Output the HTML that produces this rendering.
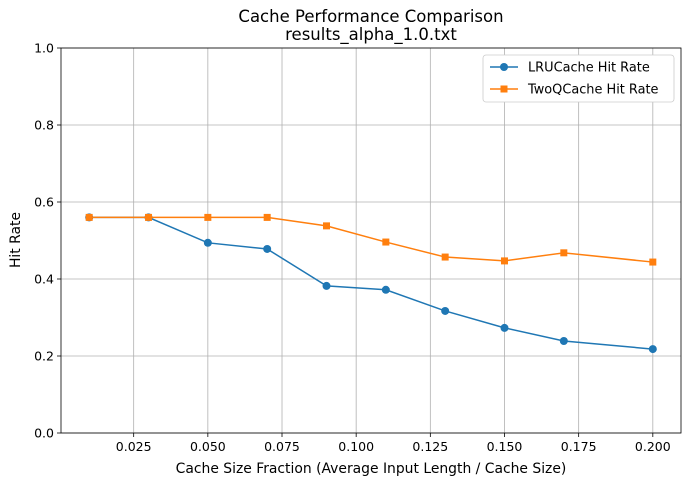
<!DOCTYPE html>
<html><head><meta charset="utf-8"><style>
body{margin:0;background:#fff;}
svg{display:block;font-family:"DejaVu Sans","Liberation Sans",sans-serif;}
</style></head><body>
<svg id="chart" width="691" height="486"></svg>
<script>
const xValues=[0.01,0.03,0.05,0.07,0.09,0.11,0.13,0.15,0.17,0.2];
const lruHitRate=[0.56,0.56,0.494,0.478,0.382,0.372,0.317,0.273,0.239,0.218];
const twoQHitRate=[0.56,0.56,0.56,0.56,0.538,0.496,0.457,0.447,0.468,0.444];
const xTicks=[0.025,0.05,0.075,0.1,0.125,0.15,0.175,0.2];
const xTickLabels=["0.025","0.050","0.075","0.100","0.125","0.150","0.175","0.200"];
const yTicks=[0,0.2,0.4,0.6,0.8,1.0];
const yTickLabels=["0.0","0.2","0.4","0.6","0.8","1.0"];

const L=61,R=681,T=48,B=433,xmin=0.0005,xmax=0.2095;
const sx=v=>L+(v-xmin)/(xmax-xmin)*(R-L);
const sy=v=>B-v*(B-T);
const svg=document.getElementById('chart');
const NS='http://www.w3.org/2000/svg';
function mk(tag,attrs,parent){const e=document.createElementNS(NS,tag);for(const k in attrs)e.setAttribute(k,attrs[k]);(parent||svg).appendChild(e);return e;}
function txt(s,attrs){const e=mk('text',attrs);e.textContent=s;return e;}

const grid=mk('g',{});


xTicks.forEach((t,i)=>{
  mk('line',{x1:sx(t),x2:sx(t),y1:T,y2:B,stroke:'#b0b0b0','stroke-width':0.8},grid);
  mk('line',{x1:sx(t),x2:sx(t),y1:B,y2:B+4,stroke:'#000','stroke-width':0.8});
  const e=txt(xTickLabels[i],{x:sx(t),y:B+18,'font-size':12.5,'text-anchor':'middle'});
  
  
});
yTicks.forEach((t,i)=>{
  mk('line',{x1:L,x2:R,y1:sy(t),y2:sy(t),stroke:'#b0b0b0','stroke-width':0.8},grid);
  mk('line',{x1:L-4,x2:L,y1:sy(t),y2:sy(t),stroke:'#000','stroke-width':0.8});
  const e=txt(yTickLabels[i],{x:L-7,y:sy(t)+4.5,'font-size':12.5,'text-anchor':'end'});
  
  
});

function series(vals,color,marker,name){
  const g=mk('g',{});
  
  
  mk('polyline',{points:vals.map((v,i)=>sx(xValues[i])+','+sy(v)).join(' '),fill:'none',stroke:color,'stroke-width':1.5},g);
  vals.forEach((v,i)=>{
    let m;
    if(marker==='o')m=mk('circle',{cx:sx(xValues[i]),cy:sy(v),r:4,fill:color},g);
    else m=mk('rect',{x:sx(xValues[i])-3.5,y:sy(v)-3.5,width:7,height:7,fill:color},g);
    
    
  });
}
series(lruHitRate,'#1f77b4','o','lru-series');
series(twoQHitRate,'#ff7f0e','s','twoq-series');

const frame=mk('rect',{x:L,y:T,width:R-L,height:B-T,fill:'none',stroke:'#000','stroke-width':0.8});



let e=txt('Cache Performance Comparison',{x:371,y:22,'font-size':16.5,'text-anchor':'middle'});


e=txt('results_alpha_1.0.txt',{x:371,y:40,'font-size':16.5,'text-anchor':'middle'});


e=txt('Cache Size Fraction (Average Input Length / Cache Size)',{x:371,y:473,'font-size':13.9,'text-anchor':'middle'});


e=txt('Hit Rate',{x:0,y:0,'font-size':13.9,'text-anchor':'middle',transform:'translate(20,240) rotate(-90)'});



const lg=mk('g',{});


mk('rect',{x:483,y:55,width:191,height:47,rx:3,fill:'#fff',stroke:'#ccc','stroke-width':0.8},lg);
mk('line',{x1:490,x2:518,y1:67,y2:67,stroke:'#1f77b4','stroke-width':1.5},lg);
mk('circle',{cx:504,cy:67,r:4,fill:'#1f77b4'},lg);
e=txt('LRUCache Hit Rate',{x:528,y:71.5,'font-size':12.9});


mk('line',{x1:490,x2:518,y1:89,y2:89,stroke:'#ff7f0e','stroke-width':1.5},lg);
mk('rect',{x:500.5,y:85.5,width:7,height:7,fill:'#ff7f0e'},lg);
e=txt('TwoQCache Hit Rate',{x:528,y:93.5,'font-size':12.9});


</script>
</body></html>
